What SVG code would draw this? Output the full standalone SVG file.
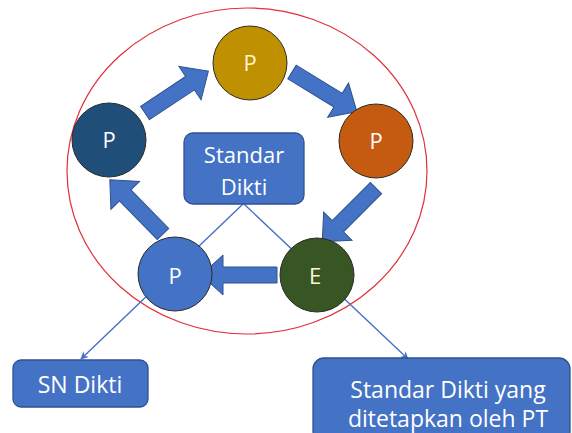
<svg xmlns="http://www.w3.org/2000/svg" width="572" height="433" viewBox="0 0 572 433">
<style>
.bx{fill:#4472C4;stroke:#2F528F;stroke-width:1.3}
.nd{stroke:#2b2b2b;stroke-width:1}
.tx{font-family:"Open Sans","Liberation Sans",sans-serif;fill:#FFFFFF;text-anchor:middle}
.ln{stroke:#4472C4;stroke-width:1.4;fill:none}
.ba{fill:#4472C4;stroke:#2F528F;stroke-width:1}
</style>
<defs>
<marker id="ah" viewBox="0 0 10 10" refX="9" refY="5" markerWidth="8" markerHeight="8" orient="auto" markerUnits="userSpaceOnUse">
<path d="M0,0 L10,5 L0,10 L3,5 Z" fill="#4472C4"/>
</marker>
<path id="blk" d="M0,-8 L54,-8 L54,-20 L76,0 L54,20 L54,8 L0,8 Z"/>
</defs>
<rect width="572" height="433" fill="#FFFFFF"/>
<ellipse cx="247" cy="171" rx="180" ry="163" fill="none" stroke="#E0303A" stroke-width="1.2"/>
<g id="connectors">
<line class="ln" x1="243" y1="204" x2="81" y2="359" marker-end="url(#ah)"/>
<line class="ln" x1="244" y1="204" x2="408" y2="359" marker-end="url(#ah)"/>
<use href="#blk" class="ba" transform="translate(145,113) rotate(-33.5)"/>
<use href="#blk" class="ba" transform="translate(292,72) rotate(31.4)"/>
<use href="#blk" class="ba" transform="translate(376,188) rotate(135)"/>
<use href="#blk" class="ba" transform="translate(277,275) rotate(180)"/>
<use href="#blk" class="ba" transform="translate(163,234) rotate(225.6)"/>
</g>
<g id="node-top">
<circle class="nd" cx="250" cy="63" r="37" fill="#BF9000"/>
<text class="tx" x="250" y="71" font-size="22" style="fill:#FFF5D6">P</text>
</g>
<g id="node-left">
<circle class="nd" cx="109" cy="140" r="37" fill="#1F4E79"/>
<text class="tx" x="109" y="148" font-size="22">P</text>
</g>
<g id="node-right">
<circle class="nd" cx="376" cy="141" r="37" fill="#C55A11"/>
<text class="tx" x="376" y="149" font-size="22">P</text>
</g>
<g id="node-e">
<circle class="nd" cx="317" cy="275" r="37" fill="#375623"/>
<text class="tx" x="315" y="284" font-size="22" style="fill:#FFF5D6">E</text>
</g>
<g id="node-bl">
<circle class="nd" cx="175" cy="274" r="37" fill="#4472C4" stroke="#2F528F"/>
<text class="tx" x="175" y="284" font-size="22">P</text>
</g>
<g id="node-standar">
<rect class="bx" x="184" y="133" width="120" height="71" rx="9"/>
<text class="tx" x="244" y="163" font-size="22">Standar</text>
<text class="tx" x="244" y="195" font-size="22">Dikti</text>
</g>
<g id="node-sn">
<rect class="bx" x="13" y="360" width="135" height="47" rx="8"/>
<text class="tx" x="80" y="393" font-size="23">SN Dikti</text>
</g>
<g id="node-pt">
<rect class="bx" x="313" y="358" width="257" height="84" rx="11"/>
<text class="tx" x="448" y="398" font-size="23">Standar Dikti yang</text>
<text class="tx" x="448" y="427" font-size="23">ditetapkan oleh PT</text>
</g>
</svg>
